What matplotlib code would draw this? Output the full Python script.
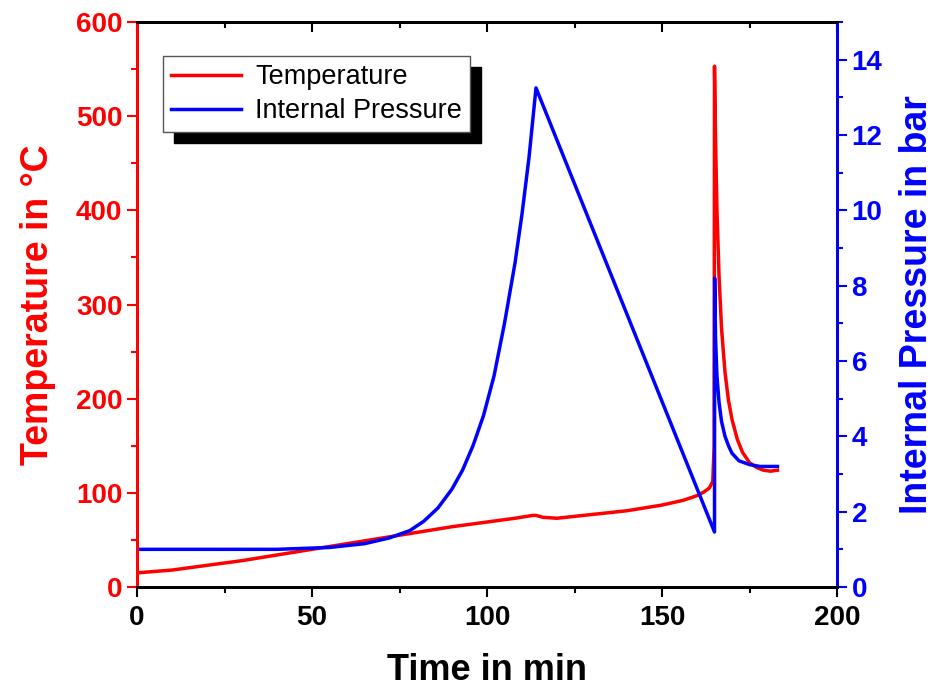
import matplotlib.pyplot as plt
import numpy as np
from matplotlib.ticker import MultipleLocator

plt.rcParams['font.family'] = ['Liberation Sans', 'DejaVu Sans']

# temperature curve (time in min, temperature in degC)
t_temp = [0, 10, 20, 30, 40, 50, 60, 70, 80, 90, 100, 108, 113, 114, 116, 120, 130,
          140, 150, 156, 160, 162, 163.5, 164.5, 164.9, 165.0, 165.3, 165.7, 166.3,
          167.0, 168.0, 169.0, 170.0, 171.5, 173.0, 175.0, 177.0, 179.0, 181.0, 183.0]
temp = [15, 18, 23, 28, 34, 40, 46, 52, 58, 64, 69, 73, 76, 76, 74, 73, 77,
        81, 87, 92, 97, 101, 105, 112, 150, 553, 475, 400, 330,
        275, 228, 198, 178, 157, 143, 132, 127, 124, 123, 124]

# internal pressure curve (time in min, pressure in bar)
t_pres = [0, 20, 40, 55, 65, 72, 78, 82, 86, 90, 93, 96, 99, 102, 105, 108, 110,
          112, 114, 165.0, 165.05, 165.3, 165.7, 166.3, 167.0, 168.0, 169.0, 170.0,
          172.0, 175.0, 178.0, 183.0]
pres = [1.0, 1.0, 1.0, 1.05, 1.15, 1.3, 1.5, 1.75, 2.1, 2.6, 3.1, 3.75, 4.55, 5.6,
        7.0, 8.6, 9.9, 11.4, 13.25, 1.46, 8.2, 6.6, 5.6, 4.9, 4.4, 4.0, 3.75, 3.55,
        3.35, 3.25, 3.2, 3.2]

fig = plt.figure(figsize=(9.49, 6.91), dpi=100)
ax = fig.add_axes([137/949, 1-587/691, 700/949, 565/691])
ax2 = ax.twinx()

l1, = ax.plot(t_temp, temp, color='red', lw=2.5, label='Temperature')
l2, = ax2.plot(t_pres, pres, color='blue', lw=2.5, label='Internal Pressure')

ax.set_xlim(0, 200)
ax.set_ylim(0, 600)
ax2.set_ylim(0, 15)

ax.xaxis.set_major_locator(MultipleLocator(50))
ax.xaxis.set_minor_locator(MultipleLocator(25))
ax.yaxis.set_major_locator(MultipleLocator(100))
ax.yaxis.set_minor_locator(MultipleLocator(50))
ax2.yaxis.set_major_locator(MultipleLocator(2))
ax2.yaxis.set_minor_locator(MultipleLocator(1))

ax.tick_params(axis='x', which='both', direction='out', labelsize=20,
               width=1.5, colors='black', pad=6)
ax.tick_params(axis='x', which='major', length=7)
ax.tick_params(axis='x', which='minor', length=4)
ax.tick_params(axis='y', which='both', direction='out', colors='red', labelsize=20, width=1.5)
ax.tick_params(axis='y', which='major', length=7)
ax.tick_params(axis='y', which='minor', length=4)
ax2.tick_params(axis='y', which='both', direction='out', colors='blue', labelsize=20, width=1.5)
ax2.tick_params(axis='y', which='major', length=7)
ax2.tick_params(axis='y', which='minor', length=4)
for lab in ax.get_xticklabels() + ax.get_yticklabels() + ax2.get_yticklabels():
    lab.set_fontweight('bold')

# top ticks point inward, no labels
top = ax.secondary_xaxis('top')
top.xaxis.set_major_locator(MultipleLocator(50))
top.xaxis.set_minor_locator(MultipleLocator(25))
top.tick_params(axis='x', which='both', direction='in', labeltop=False, width=1.5)
top.tick_params(axis='x', which='major', length=7)
top.tick_params(axis='x', which='minor', length=4)
top.spines['top'].set_linewidth(2)

ax.spines['left'].set_color('red')
ax2.spines['left'].set_color('red')
ax2.spines['right'].set_color('blue')
for s in ['left', 'right', 'top', 'bottom']:
    ax.spines[s].set_linewidth(2)
    ax2.spines[s].set_linewidth(2)

ax.set_xlabel('Time in min', fontsize=26, fontweight='bold', labelpad=16)
ax.set_ylabel('Temperature in \u00b0C', fontsize=27, fontweight='bold', color='red', labelpad=14)
ax2.set_ylabel('Internal Pressure in bar', fontsize=27, fontweight='bold', color='blue', labelpad=12)

leg = ax2.legend(handles=[l1, l2], loc='upper left', bbox_to_anchor=(0.037, 0.94),
                 fontsize=19.5, frameon=True, fancybox=False,
                 shadow={'color': 'black', 'alpha': 1, 'ox': 8, 'oy': -8},
                 handlelength=2.6, borderpad=0.3, labelspacing=0.3, handletextpad=0.5,
                 borderaxespad=0)
leg.get_frame().set_edgecolor('#555555')
leg.get_frame().set_linewidth(1)

fig.savefig('out.png', dpi=100)
